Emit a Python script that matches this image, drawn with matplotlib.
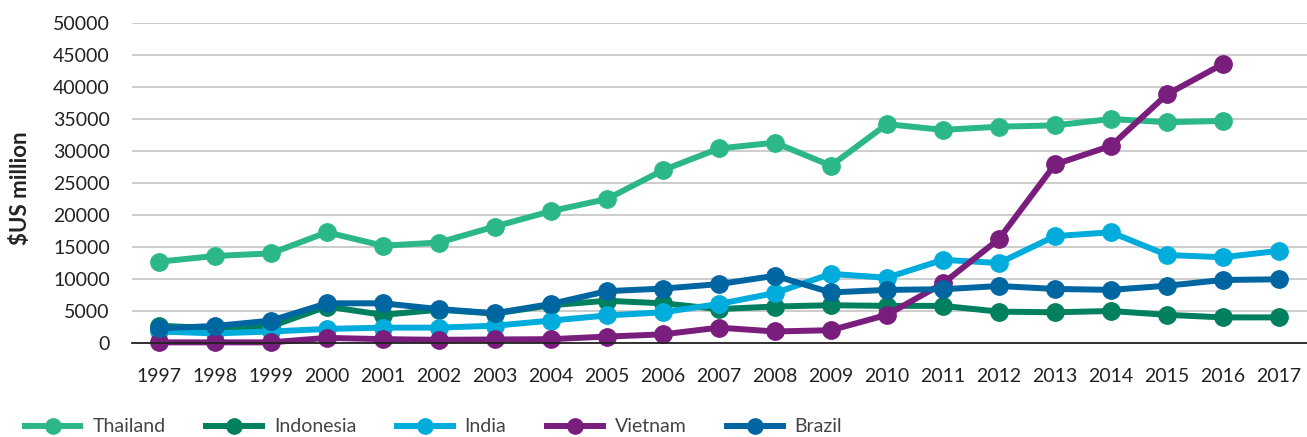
import numpy as np
import matplotlib
matplotlib.use("Agg")
import matplotlib.pyplot as plt

# === DATA ===
years = list(range(1997, 2018))

thailand = [12700, 13600, 14000, 17300, 15200, 15700, 18200, 20600, 22500, 27000,
            30400, 31300, 27700, 34200, 33300, 33800, 34000, 35000, 34500, 34700, np.nan]
indonesia = [2700, 2300, 2600, 5700, 4400, 5200, 4600, 5900, 6600, 6200,
             5300, 5700, 5900, 5800, 5800, 4900, 4800, 5000, 4400, 4000, 4000]
india = [1800, 1500, 1800, 2200, 2400, 2400, 2700, 3500, 4300, 4800,
         6100, 7800, 10800, 10200, 13000, 12500, 16700, 17300, 13750, 13400, 14400]
vietnam = [100, 100, 100, 800, 600, 500, 550, 600, 1000, 1350,
           2400, 1800, 2000, 4400, 9300, 16250, 27900, 30800, 38850, 43600, np.nan]
brazil = [2300, 2650, 3500, 6200, 6200, 5300, 4650, 6100, 8100, 8500,
          9200, 10500, 7900, 8300, 8400, 8900, 8450, 8300, 8950, 9850, 9950]

series = [
    ("Thailand", thailand, "#2bb886"),
    ("Indonesia", indonesia, "#00805f"),
    ("India", india, "#00acdc"),
    ("Vietnam", vietnam, "#7a1e7e"),
    ("Brazil", brazil, "#0066a2"),
]

plt.rcParams['font.family'] = ['Lato', 'DejaVu Sans']

W, H = 1307, 437
fig = plt.figure(figsize=(W / 100, H / 100), dpi=100)
# axes box in pixels: left 132, right 1307, top 23, bottom 343
ax = fig.add_axes([132 / W, 1 - 343 / H, (W - 132) / W, (343 - 23) / H])

for name, vals, col in series:
    ax.plot(years, vals, color=col, lw=4.3, marker='o', markersize=12.5,
            label=name, clip_on=False, solid_joinstyle='round')

ax.set_xlim(1996.52, 2017.5)
ax.set_ylim(0, 50000)
ax.set_yticks(range(0, 50001, 5000))
ax.set_xticks(years)
ax.set_xticklabels([str(y) for y in years])
ax.tick_params(axis='both', length=0, labelsize=14, colors='#222222')
ax.tick_params(axis='x', pad=18)
ax.tick_params(axis='y', pad=16)

ax.grid(axis='y', color='#c8c8c8', lw=1.3)
ax.set_axisbelow(True)
for s in ['top', 'right', 'left']:
    ax.spines[s].set_visible(False)
ax.spines['bottom'].set_color('#222222')
ax.spines['bottom'].set_linewidth(1.3)

fig.text(21 / W, 1 - 188 / H, "$US million", rotation=90, ha='center', va='center',
         fontsize=16, fontweight='bold', color='#222222')

ax.legend(loc='center left', bbox_to_anchor=(25 / W, 1 - 427 / H),
          bbox_transform=fig.transFigure, ncol=5, frameon=False,
          fontsize=14, handlelength=2.85, columnspacing=2.1, handletextpad=0.62,
          borderpad=0, borderaxespad=0, markerscale=0.88, labelcolor='#444444')

plt.savefig("out.png", dpi=100)
